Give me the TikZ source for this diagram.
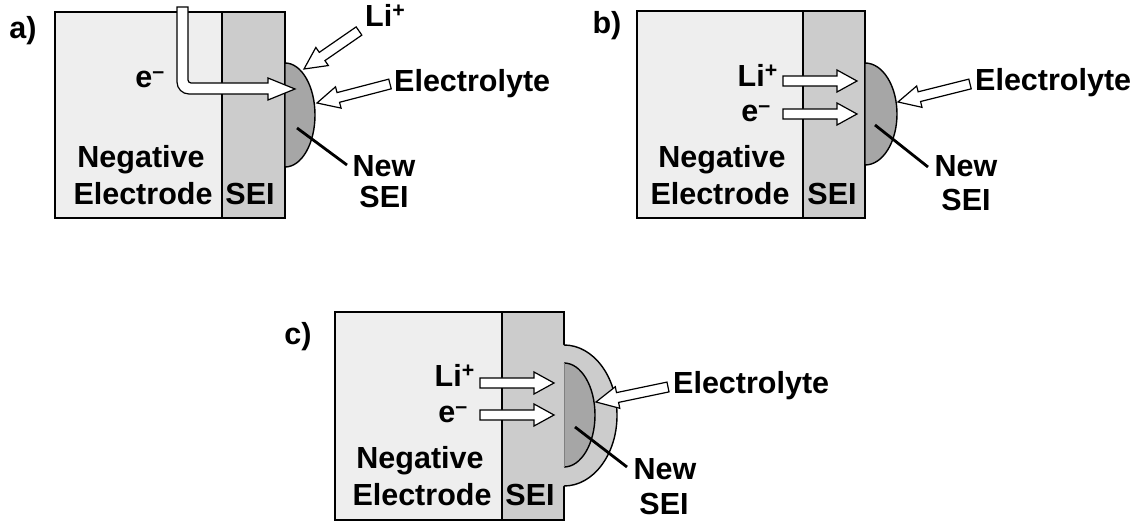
\documentclass[tikz,border=0pt]{standalone}
\usepackage{fontspec}
\setmainfont{Liberation Sans}
\usetikzlibrary{calc}
\definecolor{electrode}{gray}{0.933}
\definecolor{seicol}{gray}{0.8}
\definecolor{newsei}{gray}{0.65}
\tikzset{
  lbl/.style={inner sep=0pt, anchor=base, font=\fontsize{30.5}{36}\selectfont\bfseries},
  boxline/.style={draw=black, line width=1.4pt},
  arrowbox/.style={draw=black, fill=white, line width=1.2pt, line join=miter},
  pointer/.style={draw=black, line width=2.8pt},
}
% block arrow: [head length]{tail}{tip}
\newcommand\blockarrow[3][22pt]{%
  \coordinate (ba-h) at ($(#3)!#1!(#2)$);
  \draw[arrowbox] ($(#2)!5pt!90:(#3)$) -- ($(ba-h)!5pt!90:(#3)$) -- ($(ba-h)!11pt!90:(#3)$)
    -- (#3) -- ($(ba-h)!11pt!-90:(#3)$) -- ($(ba-h)!5pt!-90:(#3)$) -- ($(#2)!5pt!-90:(#3)$) -- cycle;}
\begin{document}
\begin{tikzpicture}[x=1pt,y=-1pt]
\useasboundingbox (0,0) rectangle (1144,521);

% ================= panel a =================
\fill[electrode] (55,12) rectangle (222,218);
\fill[seicol] (222,12) rectangle (285,218);
\draw[boxline] (55,12) rectangle (285,218);
\draw[boxline] (222,12) -- (222,218);
\draw[boxline, fill=newsei] (285,63) arc[start angle=90, end angle=-90, x radius=30pt, y radius=52pt] -- cycle;
% e- arrow
\draw[arrowbox] (177,7) -- (177,82) arc[start angle=180, end angle=270, radius=12pt]
  -- (268,94) -- (268,100) -- (295,89) -- (268,78) -- (268,83) -- (191,83)
  arc[start angle=270, end angle=180, radius=3pt] -- (188,7) -- cycle;
\coordinate (aLiT) at (359,31);  \coordinate (aLiP) at (304,69);
\coordinate (aElT) at (390,84);  \coordinate (aElP) at (317,103);
\blockarrow{aLiT}{aLiP}
\blockarrow{aElT}{aElP}
\node[lbl] (alab) at (23,39) {a)};
\node[lbl, anchor=base east] (aem) at (165,88) {e\textsuperscript{–}};
\node[lbl, anchor=base west] (ali) at (365,27) {Li\textsuperscript{+}};
\node[lbl, anchor=base west] (ael) at (394,92) {Electrolyte};
\node[lbl] (aneg) at (141,168) {Negative};
\node[lbl] (aelc) at (143,205) {Electrode};
\node[lbl] (asei) at (250,205) {SEI};
\node[lbl] (anew) at (384,177) {New};
\node[lbl] (ansei) at (384,208) {SEI};
\coordinate (aptr) at (297,128);
\draw[pointer] (aptr) -- (347,165);

% ================= panel b =================
\fill[electrode] (637,11) rectangle (803,218);
\fill[seicol] (803,11) rectangle (865,218);
\draw[boxline] (637,11) rectangle (865,218);
\draw[boxline] (803,11) -- (803,218);
\draw[boxline, fill=newsei] (865,63) arc[start angle=90, end angle=-90, x radius=32pt, y radius=51pt] -- cycle;
\coordinate (bLiT) at (783,81);  \coordinate (bLiP) at (857,81);
\coordinate (bEmT) at (783,114); \coordinate (bEmP) at (857,114);
\coordinate (bElT) at (970,84);  \coordinate (bElP) at (898,102);
\blockarrow[20pt]{bLiT}{bLiP}
\blockarrow[20pt]{bEmT}{bEmP}
\blockarrow{bElT}{bElP}
\node[lbl] (blab) at (607,34) {b)};
\node[lbl, anchor=base east] (bli) at (778,87) {Li\textsuperscript{+}};
\node[lbl, anchor=base east] (bem) at (771,122) {e\textsuperscript{–}};
\node[lbl, anchor=base west] (bel) at (975,91) {Electrolyte};
\node[lbl] (bneg) at (722,168) {Negative};
\node[lbl] (belc) at (720,205) {Electrode};
\node[lbl] (bsei) at (832,205) {SEI};
\node[lbl] (bnew) at (966,177) {New};
\node[lbl] (bnsei) at (966,211) {SEI};
\coordinate (bptr) at (875,125);
\draw[pointer] (bptr) -- (928,167);

% ================= panel c =================
\fill[electrode] (335,312) rectangle (502,520);
\fill[seicol] (502,312) rectangle (564,520);
\draw[boxline] (335,312) rectangle (564,520);
\draw[boxline] (502,312) -- (502,520);
\fill[seicol] (562.5,345) -- (564,345) arc[start angle=90, end angle=-90, x radius=53pt, y radius=70.5pt] -- (562.5,486) -- cycle;
\draw[boxline] (564,345) arc[start angle=90, end angle=-90, x radius=53pt, y radius=70.5pt];
\fill[newsei] (564,363) arc[start angle=90, end angle=-90, x radius=31pt, y radius=52pt] -- cycle;
\draw[boxline] (564,363) arc[start angle=90, end angle=-90, x radius=31pt, y radius=52pt];
\draw[gray, line width=0.8pt] (564,363) -- (564,467);
\coordinate (cLiT) at (480,383); \coordinate (cLiP) at (554,383);
\coordinate (cEmT) at (480,415); \coordinate (cEmP) at (554,415);
\coordinate (cElT) at (668,387); \coordinate (cElP) at (596,402);
\blockarrow[20pt]{cLiT}{cLiP}
\blockarrow[20pt]{cEmT}{cEmP}
\blockarrow{cElT}{cElP}
\node[lbl] (clab) at (298,345) {c)};
\node[lbl, anchor=base east] (cli) at (475,387) {Li\textsuperscript{+}};
\node[lbl, anchor=base east] (cem) at (468,423) {e\textsuperscript{–}};
\node[lbl, anchor=base west] (cel) at (673,394) {Electrolyte};
\node[lbl] (cneg) at (420,468) {Negative};
\node[lbl] (celc) at (422,505) {Electrode};
\node[lbl] (csei) at (530,505) {SEI};
\node[lbl] (cnew) at (665,479) {New};
\node[lbl] (cnsei) at (664,514) {SEI};
\coordinate (cptr) at (575,427);
\draw[pointer] (cptr) -- (627,467);
\end{tikzpicture}
\end{document}
